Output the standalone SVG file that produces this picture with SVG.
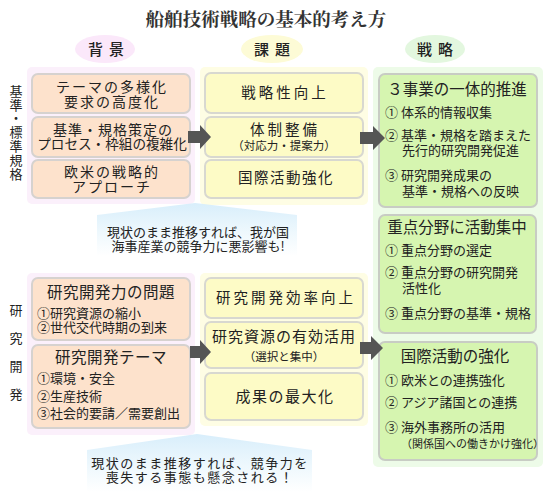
<svg xmlns="http://www.w3.org/2000/svg" width="550" height="497" viewBox="0 0 550 497">
<defs>
<linearGradient id="callg" x1="0" y1="0" x2="0" y2="1">
<stop offset="0" stop-color="#d8eefb"/>
<stop offset="0.55" stop-color="#eef8fd"/>
<stop offset="1" stop-color="#ffffff"/>
</linearGradient>
<style>
text{font-family:"Noto Sans CJK JP","Noto Sans CJK SC",sans-serif;fill:#222;}
.t{text-anchor:middle;}
.pp{fill:#fbf0fb;}
.py{fill:#fefde4;}
.pg{fill:#edfbe8;}
.bp{fill:#fde2cc;stroke:#d6d2cf;stroke-width:2;}
.by{fill:#fdfbc6;stroke:#d8d8d0;stroke-width:2;}
.bg{fill:#d6f5b0;stroke:#c8ccc4;stroke-width:2;}
.arr{fill:#555555;}
.f14{font-size:14px;letter-spacing:2px;}
.f13{font-size:13px;}
.h{font-size:15.5px;}
.m{font-size:14.5px;letter-spacing:3px;}
</style>
</defs>

<text class="t" x="266" y="26" style="font-size:18.5px;font-weight:700;fill:#333;font-family:'Noto Serif CJK JP','Noto Sans CJK JP',serif;">船舶技術戦略の基本的考え方</text>

<g id="headers">
<ellipse cx="105" cy="49" rx="30" ry="14" fill="#fbe8fa"/>
<text class="t" x="109" y="55" style="font-size:15px;letter-spacing:6px;font-weight:500;">背景</text>
<ellipse cx="272" cy="49" rx="31" ry="14" fill="#fdfbd6"/>
<text class="t" x="275" y="55" style="font-size:15px;letter-spacing:6px;font-weight:500;">課題</text>
<ellipse cx="435" cy="49" rx="30" ry="14" fill="#e3f7df"/>
<text class="t" x="438" y="55" style="font-size:15px;letter-spacing:6px;font-weight:500;">戦略</text>
</g>

<g id="side-labels" class="f13">
<text class="t" x="16" y="96">基</text>
<text class="t" x="16" y="110">準</text>
<text class="t" x="16" y="123">・</text>
<text class="t" x="16" y="137">標</text>
<text class="t" x="16" y="151">準</text>
<text class="t" x="16" y="165">規</text>
<text class="t" x="16" y="179">格</text>
<text class="t" x="16" y="315">研</text>
<text class="t" x="16" y="343">究</text>
<text class="t" x="16" y="371">開</text>
<text class="t" x="16" y="399">発</text>
</g>

<g id="panels">
<rect class="pp" x="27" y="67" width="168" height="137" rx="5"/>
<rect class="py" x="200" y="67" width="168" height="138" rx="5"/>
<rect class="pg" x="373" y="67" width="170" height="400" rx="5"/>
<rect class="pp" x="27" y="273" width="168" height="162" rx="5"/>
<rect class="py" x="200" y="273" width="168" height="153" rx="5"/>
</g>

<g id="callout1">
<polygon points="195,203 297,215 297,256 97,256 97,215" fill="url(#callg)"/>
<text class="t f13" x="198" y="237">現状のまま推移すれば、我が国</text>
<text class="t f13" x="198" y="251">海事産業の競争力に悪影響も!</text>
</g>

<g id="callout2">
<polygon points="197,434 312,450 312,492 87,492 87,450" fill="url(#callg)"/>
<text class="t" x="200" y="468" style="font-size:13px;letter-spacing:1.5px;">現状のまま推移すれば、競争力を</text>
<text class="t" x="200" y="482" style="font-size:13px;letter-spacing:1.5px;">喪失する事態も懸念される！</text>
</g>

<g id="bg1">
<rect class="bp" x="32" y="74" width="158" height="39" rx="6"/>
<text class="t f14" x="112" y="92">テーマの多様化</text>
<text class="t f14" x="112" y="107">要求の高度化</text>
</g>
<g id="bg2">
<rect class="bp" x="32" y="117" width="158" height="40" rx="6"/>
<text class="t" x="113" y="135" style="font-size:14px;letter-spacing:1px;">基準・規格策定の</text>
<text class="t" x="112" y="149" style="font-size:13.6px;">プロセス・枠組の複雑化</text>
</g>
<g id="bg3">
<rect class="bp" x="32" y="160" width="158" height="38" rx="6"/>
<text class="t f14" x="112" y="177">欧米の戦略的</text>
<text class="t f14" x="112" y="192">アプローチ</text>
</g>

<g id="k1">
<rect class="by" x="205" y="73" width="158" height="40" rx="6"/>
<text class="t m" x="285" y="98">戦略性向上</text>
</g>
<g id="k2">
<rect class="by" x="205" y="117" width="158" height="40" rx="6"/>
<text class="t m" x="285" y="135">体制整備</text>
<text class="t" x="284" y="150" style="font-size:11.5px;">（対応力・提案力）</text>
</g>
<g id="k3">
<rect class="by" x="205" y="160" width="158" height="38" rx="6"/>
<text class="t" x="286" y="183" style="font-size:14.5px;letter-spacing:1.5px;">国際活動強化</text>
</g>

<g id="s1">
<rect class="bg" x="379" y="74" width="158" height="133" rx="6"/>
<text class="t h" x="457" y="95">３事業の一体的推進</text>
<text class="f13" x="385" y="117">① 体系的情報収集</text>
<text class="f13" x="385" y="140">② 基準・規格を踏まえた</text>
<text class="f13" x="402" y="155">先行的研究開発促進</text>
<text class="f13" x="385" y="180">③ 研究開発成果の</text>
<text class="f13" x="402" y="196">基準・規格への反映</text>
</g>
<g id="s2">
<rect class="bg" x="379" y="215" width="157" height="118" rx="6"/>
<text class="t h" x="457" y="233">重点分野に活動集中</text>
<text class="f13" x="385" y="255">① 重点分野の選定</text>
<text class="f13" x="385" y="277">② 重点分野の研究開発</text>
<text class="f13" x="402" y="293">活性化</text>
<text class="f13" x="385" y="318">③ 重点分野の基準・規格</text>
</g>
<g id="s3">
<rect class="bg" x="379" y="342" width="158" height="118" rx="6"/>
<text class="t h" x="455" y="362">国際活動の強化</text>
<text class="f13" x="385" y="385">① 欧米との連携強化</text>
<text class="f13" x="385" y="407">② アジア諸国との連携</text>
<text class="f13" x="385" y="432">③ 海外事務所の活用</text>
<text x="401" y="448" style="font-size:11px;">（関係国への働きかけ強化）</text>
</g>

<g id="br1">
<rect class="bp" x="32" y="278" width="158" height="62" rx="6"/>
<text class="t" x="111" y="298" style="font-size:15.5px;letter-spacing:0.5px;">研究開発力の問題</text>
<text class="f13" x="37" y="318">①研究資源の縮小</text>
<text class="f13" x="37" y="332">②世代交代時期の到来</text>
</g>
<g id="br2">
<rect class="bp" x="32" y="345" width="158" height="83" rx="6"/>
<text class="t" x="111" y="363" style="font-size:15.5px;letter-spacing:0.5px;">研究開発テーマ</text>
<text class="f13" x="37" y="383">①環境・安全</text>
<text class="f13" x="37" y="401">②生産技術</text>
<text class="f13" x="37" y="418">③社会的要請／需要創出</text>
</g>

<g id="kr1">
<rect class="by" x="205" y="278" width="158" height="40" rx="6"/>
<text class="t" x="286" y="303" style="font-size:14.5px;letter-spacing:3px;">研究開発効率向上</text>
</g>
<g id="kr2">
<rect class="by" x="205" y="322" width="158" height="46" rx="6"/>
<text class="t" x="284" y="342" style="font-size:15px;letter-spacing:1px;">研究資源の有効活用</text>
<text class="t" x="284" y="361" style="font-size:11.5px;">（選択と集中）</text>
</g>
<g id="kr3">
<rect class="by" x="205" y="373" width="158" height="47" rx="6"/>
<text class="t" x="285" y="402" style="font-size:15px;letter-spacing:1.5px;">成果の最大化</text>
</g>

<g id="connectors">
<polygon class="arr" points="188,131 200,131 200,125 211,137 200,149 200,143 188,143"/>
<polygon class="arr" points="360,132 373,132 373,126 385,138 373,150 373,144 360,144"/>
<polygon class="arr" points="190,346 200,346 200,340 211,352 200,364 200,358 190,358"/>
<polygon class="arr" points="360,342 371,342 371,336 383,348 371,360 371,354 360,354"/>
</g>
</svg>
